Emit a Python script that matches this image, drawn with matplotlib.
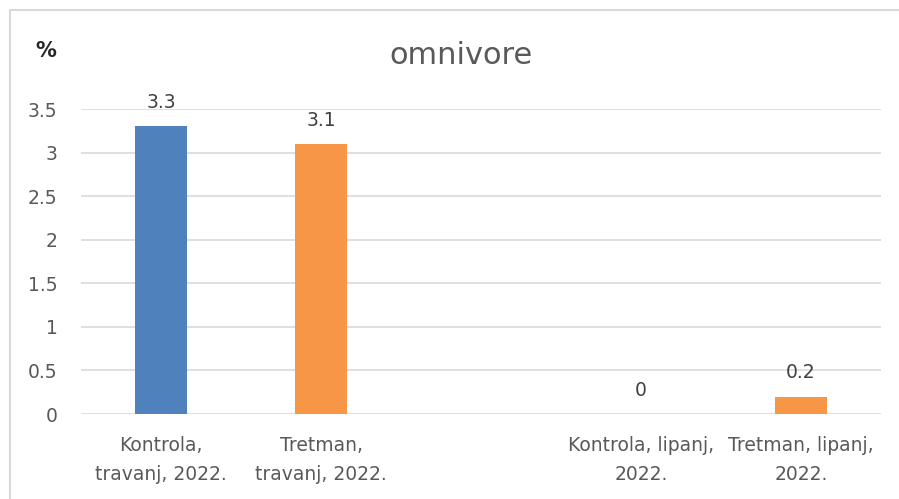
import numpy as np
import matplotlib
matplotlib.use('Agg')
import matplotlib.pyplot as plt
from matplotlib.patches import Rectangle

# chart data (middle slot is empty in the original)
categories = ['Kontrola,\ntravanj, 2022.', 'Tretman,\ntravanj, 2022.', '',
              'Kontrola, lipanj,\n2022.', 'Tretman, lipanj,\n2022.']
values = [3.3, 3.1, np.nan, 0, 0.2]
labels = ['3.3', '3.1', '', '0', '0.2']
groups = ['Kontrola', 'Tretman', '', 'Kontrola', 'Tretman']
y_ticks = [0, 0.5, 1, 1.5, 2, 2.5, 3, 3.5]
y_ticklabels = ['0', '0.5', '1', '1.5', '2', '2.5', '3', '3.5']

group_colors = {'Kontrola': '#4F81BD', 'Tretman': '#F79646', '': 'white'}
text_color = '#595959'

plt.rcParams['font.family'] = ['DejaVu Sans']

W, H = 899, 499
fig = plt.figure(figsize=(W / 100, H / 100), dpi=100)

# outer chart border
fig.patches.append(Rectangle((10 / W, -0.1), 1.0, 1.1 - 10 / H,
                             transform=fig.transFigure, fill=False,
                             edgecolor='#D9D9D9', linewidth=1.5))

ax = fig.add_axes([81 / W, (H - 414) / H, 800 / W, (414 - 109) / H])

x = np.arange(len(categories))
colors = [group_colors[g] for g in groups]
bars = ax.bar(x, values, width=0.32, color=colors, zorder=3)

for xi, v, lab in zip(x, values, labels):
    if lab:
        ax.annotate(lab, (xi, v), xytext=(0, 17), textcoords='offset points',
                    ha='center', va='center', fontsize=13.5, color='#404040')

ax.set_xlim(-0.5, len(categories) - 0.5)
ax.set_ylim(0, 3.5)
ax.set_yticks(y_ticks)
ax.set_yticklabels(y_ticklabels)
ax.set_xticks(x)
ax.set_xticklabels(categories, linespacing=1.65)
ax.tick_params(axis='y', length=0, pad=17, labelsize=13.5, labelcolor=text_color)
ax.tick_params(axis='x', length=0, pad=16, labelsize=13.5, labelcolor=text_color)
ax.yaxis.grid(True, color='#D9D9D9', linewidth=1.2, zorder=0)
for s in ax.spines.values():
    s.set_visible(False)

fig.text(461 / W, 1 - 55 / H, 'omnivore', ha='center', va='center',
         fontsize=22, color=text_color)
fig.text(46 / W, 1 - 51 / H, '%', ha='center', va='center',
         fontsize=15, fontweight='bold', color='#262626')

fig.savefig('out.png', dpi=100)
